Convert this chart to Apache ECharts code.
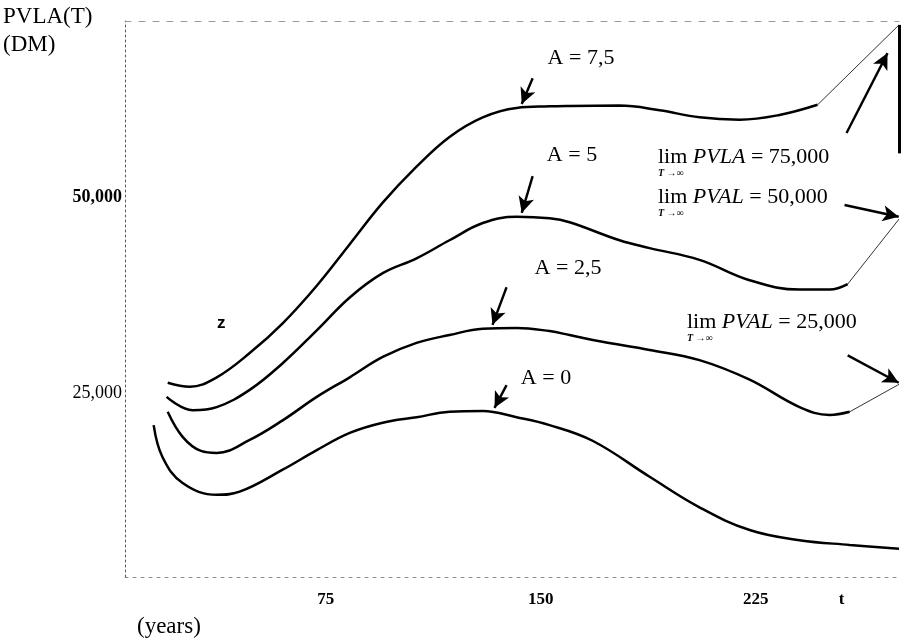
<!DOCTYPE html>
<html>
<head>
<meta charset="utf-8">
<script src="https://cdn.jsdelivr.net/npm/echarts@6/dist/echarts.min.js"></script>
<style>
html,body{margin:0;padding:0;background:#fff;}
#c{width:909px;height:641px;}
</style>
</head>
<body>
<div id="c"></div>
<script>
// ---- data (t in years, PVLA in DM) ----
const xTickLabels = {75: '75', 150: '150', 225: '225', 255: 't'};
const yTickLabels = {50000: '50,000', 25000: '25,000'};

const a75X = [19.9, 27.6, 37.0, 48.5, 60.0, 71.9, 83.4, 94.9, 106.7, 118.2, 129.8, 141.6, 153.1, 160.1, 177.5, 191.5, 205.4, 219.4, 233.3, 246.6];
const a75Y = [26300, 25800, 27000, 30100, 33900, 38700, 44000, 49300, 53900, 57700, 60200, 61400, 61600, 61650, 61700, 61100, 60200, 59900, 60500, 61800];

const a5X = [19.5, 28.6, 37.0, 48.5, 60.0, 71.9, 83.4, 94.9, 106.7, 118.2, 129.8, 141.6, 153.1, 160.1, 177.5, 188.0, 205.4, 222.9, 240.3, 250.8, 257.1];
const a5Y = [24500, 22800, 23200, 25400, 28800, 33000, 37200, 40300, 42200, 44500, 46700, 47500, 47300, 46800, 44500, 43500, 42000, 39400, 38200, 38200, 38900];

const a25X = [19.9, 25.1, 31.5, 37.0, 48.5, 60.0, 71.9, 83.4, 94.9, 106.7, 118.2, 129.8, 141.6, 153.1, 160.1, 170.6, 188.0, 205.4, 222.9, 240.3, 250.8, 257.8];
const a25Y = [22600, 19400, 17600, 17350, 19000, 21500, 24500, 27000, 29600, 31400, 32400, 33200, 33300, 32900, 32400, 31600, 30500, 29200, 26700, 23200, 22200, 22600];

const a0X = [15.0, 18.1, 25.1, 37.0, 45.0, 60.0, 71.9, 83.4, 94.9, 106.7, 118.2, 129.8, 141.6, 153.1, 168.1, 188.0, 205.4, 222.9, 240.3, 257.8, 275];
const a0Y = [20900, 16800, 13500, 12000, 12400, 15200, 17700, 19900, 21200, 21900, 22600, 22700, 21900, 20900, 18900, 14300, 10400, 7500, 6200, 5600, 5100];

// straight continuations toward the limits
const ext75X = [246.6, 275], ext75Y = [61800, 72000];
const ext5X = [257.1, 275], ext5Y = [38900, 47200];
const ext25X = [257.8, 275], ext25Y = [22600, 26100];

// annotation arrows [fromX, fromY, toX, toY]
const arrowA75 = [147.2, 65200, 143.4, 61900];
const arrowA5 = [147.2, 52700, 143.4, 48000];
const arrowA25 = [138.1, 38500, 133.2, 33700];
const arrowA0 = [138.1, 26000, 133.9, 23100];
const arrowLim75 = [256.7, 58200, 271.0, 68400];
const arrowLim50 = [256.0, 49000, 274.9, 47500];
const arrowLim25 = [257.1, 29800, 274.9, 26300];
const limBar = [275, 72000, 275, 55600];

const curveLabels = ['A = 7,5', 'A = 5', 'A = 2,5', 'A = 0'];

// ---- build ----
const zip = (xs, ys) => xs.map((x, i) => [x, ys[i]]);
const SERIF = "'Liberation Serif', 'Times New Roman', serif";

function arrowItem(a) {
  return [
    {coord: [a[0], a[1]], symbol: 'none'},
    {coord: [a[2], a[3]], symbol: 'arrow', symbolSize: [12, 16]}
  ];
}

const curveStyle = {color: '#000', width: 2.5};
const extStyle = {color: '#333', width: 1};

function curve(name, xs, ys) {
  return {
    name, type: 'line', data: zip(xs, ys), smooth: 0.4, showSymbol: false, symbol: 'none',
    lineStyle: curveStyle, silent: true, z: 3
  };
}
function ext(name, xs, ys) {
  return {
    name, type: 'line', data: zip(xs, ys), smooth: false, showSymbol: false, symbol: 'none',
    lineStyle: extStyle, silent: true, z: 2
  };
}

const chart = echarts.init(document.getElementById('c'), null, {renderer: 'canvas'});

const option = {
  animation: false,
  backgroundColor: '#fff',
  grid: {left: 125, right: 10, top: 21, bottom: 64, containLabel: false},
  xAxis: [{
    type: 'value', min: 5, max: 275, interval: 5,
    axisLine: {show: true, lineStyle: {color: '#8a8a8a', width: 1, type: [3, 5]}},
    axisTick: {show: false},
    splitLine: {show: false},
    axisLabel: {
      margin: 14, fontFamily: SERIF, fontSize: 17, fontWeight: 'bold', color: '#000',
      formatter: v => xTickLabels[v] || ''
    }
  }, {
    type: 'value', position: 'top', min: 5, max: 275,
    axisLine: {show: true, lineStyle: {color: '#9a9a9a', width: 1, type: [6, 8]}},
    axisTick: {show: false}, axisLabel: {show: false}, splitLine: {show: false}
  }],
  yAxis: {
    type: 'value', min: 1500, max: 72500, interval: 500,
    axisLine: {show: true, lineStyle: {color: '#555', width: 1, type: [2, 3]}},
    axisTick: {show: false},
    splitLine: {show: false},
    axisLabel: {
      margin: 3, fontFamily: SERIF, fontSize: 18, color: '#000',
      formatter: v => yTickLabels[v] ? (v === 50000 ? '{b|' + yTickLabels[v] + '}' : yTickLabels[v]) : '',
      rich: {b: {fontFamily: SERIF, fontSize: 18, fontWeight: 'bold', color: '#000'}}
    }
  },
  series: [
    curve('A = 7,5', a75X, a75Y),
    curve('A = 5', a5X, a5Y),
    curve('A = 2,5', a25X, a25Y),
    curve('A = 0', a0X, a0Y),
    ext('ext 7,5', ext75X, ext75Y),
    ext('ext 5', ext5X, ext5Y),
    ext('ext 2,5', ext25X, ext25Y),
    {
      name: 'annotations', type: 'line', data: [], silent: true, z: 4,
      markLine: {
        silent: true, animation: false,
        label: {show: false},
        lineStyle: {color: '#000', width: 2.4, type: 'solid'},
        emphasis: {disabled: true},
        data: [
          arrowItem(arrowA75), arrowItem(arrowA5), arrowItem(arrowA25), arrowItem(arrowA0),
          arrowItem(arrowLim75), arrowItem(arrowLim50), arrowItem(arrowLim25),
          [
            {coord: [limBar[0], limBar[1]], symbol: 'none', lineStyle: {width: 3}},
            {coord: [limBar[2], limBar[3]], symbol: 'none'}
          ]
        ]
      }
    }
  ]
};
chart.setOption(option);

// ---- text annotations ----
const limRich = {
  i: {fontFamily: SERIF, fontSize: 22, fontStyle: 'italic', fill: '#000', color: '#000'},
  n: {fontFamily: SERIF, fontSize: 22, fill: '#000', color: '#000'}
};
function limText(x, y, name, val) {
  return [
    {
      type: 'text', x, y, silent: true,
      style: {text: '{n|lim }{i|' + name + '}{n| = ' + val + '}', rich: limRich, verticalAlign: 'middle', fill: '#000'}
    },
    {
      type: 'text', x: x, y: y + 16, silent: true,
      style: {text: 'T →∞', fill: '#000', font: 'italic bold 10px ' + SERIF, verticalAlign: 'middle'}
    }
  ];
}
const label = (x, y, text, font, align) => ({
  type: 'text', x, y, silent: true,
  style: {text, fill: '#000', font, align: align || 'left', verticalAlign: 'middle'}
});

const graphics = [
  label(3, 17, 'PVLA(T)', '23px ' + SERIF),
  label(3, 45, '(DM)', '23px ' + SERIF),
  label(137, 627, '(years)', '23px ' + SERIF),
  label(217, 323, 'z', 'bold 17px "Liberation Sans", Arial, sans-serif'),
  label(581, 58, curveLabels[0], '22px ' + SERIF, 'center'),
  label(572, 155, curveLabels[1], '22px ' + SERIF, 'center'),
  label(568, 268, curveLabels[2], '22px ' + SERIF, 'center'),
  label(546, 378, curveLabels[3], '22px ' + SERIF, 'center')
].concat(
  limText(658, 157, 'PVLA', '75,000'),
  limText(658, 197, 'PVAL', '50,000'),
  limText(687, 322, 'PVAL', '25,000')
);
chart.setOption({graphic: graphics});
</script>
</body>
</html>
